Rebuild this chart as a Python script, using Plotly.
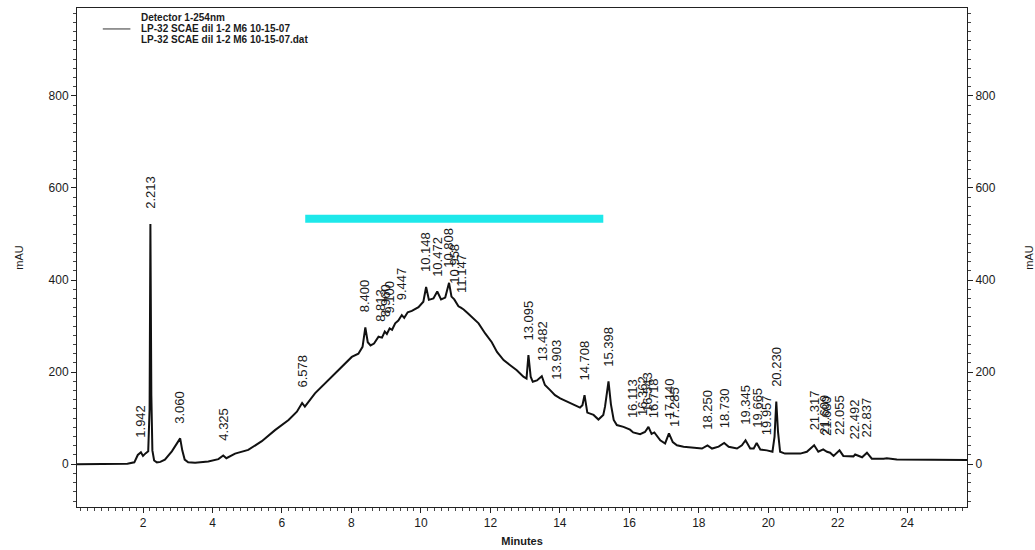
import plotly.graph_objects as go

# ---- data ----
time_min = [0.10, 1.00, 1.55, 1.75, 1.85, 1.94, 2.00, 2.08, 2.15, 2.19, 2.213, 2.24, 2.27, 2.32, 2.40,
            2.50, 2.63, 2.83, 3.00, 3.07, 3.13, 3.20, 3.30, 3.50, 3.88, 4.17, 4.31, 4.40, 4.65, 5.03,
            5.42, 5.80, 6.19, 6.43, 6.58, 6.66, 6.95, 7.34, 7.72, 8.01, 8.20, 8.32, 8.40, 8.47, 8.55,
            8.65, 8.78, 8.88, 8.96, 9.02, 9.10, 9.17, 9.26, 9.35, 9.45, 9.52, 9.62, 9.74, 9.93, 10.07,
            10.15, 10.23, 10.36, 10.47, 10.58, 10.70, 10.81, 10.88, 10.96, 11.08, 11.15, 11.23, 11.35,
            11.47, 11.66, 11.85, 12.04, 12.19, 12.38, 12.57, 12.76, 12.95, 13.04, 13.095, 13.16, 13.22,
            13.34, 13.48, 13.57, 13.72, 13.86, 14.01, 14.30, 14.58, 14.65, 14.71, 14.79, 14.97, 15.11,
            15.25, 15.30, 15.40, 15.47, 15.55, 15.64, 15.83, 16.02, 16.11, 16.31, 16.45, 16.55, 16.64,
            16.72, 16.89, 17.03, 17.14, 17.25, 17.37, 17.56, 17.85, 18.09, 18.25, 18.38, 18.57, 18.73,
            18.86, 19.10, 19.24, 19.345, 19.48, 19.58, 19.665, 19.77, 19.96, 20.12, 20.18, 20.23, 20.28,
            20.34, 20.48, 20.92, 21.11, 21.32, 21.44, 21.58, 21.69, 21.78, 21.88, 22.05, 22.16, 22.45,
            22.50, 22.70, 22.84, 22.98, 23.32, 23.41, 23.70, 24.47, 25.24, 25.72]
signal_mau = [0, 0, 1, 4, 20, 26, 18, 24, 28, 120, 522, 150, 30, 8, 4,
              5, 10, 28, 50, 56, 30, 10, 4, 3, 6, 11, 19, 13, 23, 31,
              50, 74, 96, 114, 133, 125, 154, 183, 212, 233, 240, 255, 297, 265, 258,
              262, 277, 275, 288, 283, 295, 292, 306, 312, 324, 318, 330, 333, 341, 353,
              385, 357, 360, 375, 358, 362, 394, 364, 358, 343, 340, 336, 328,
              320, 306, 284, 265, 244, 226, 215, 204, 190, 186, 237, 190, 179,
              182, 191, 172, 161, 150, 143, 132, 123, 128, 150, 112, 107, 97,
              107, 125, 180, 130, 96, 85, 81, 75, 69, 65, 70, 81, 66,
              69, 52, 45, 67, 48, 41, 38, 35, 34, 41, 34, 38, 46,
              38, 34, 41, 52, 34, 34, 46, 32, 30, 27, 60, 136, 70,
              27, 23, 23, 27, 41, 27, 32, 27, 25, 18, 30, 18, 17,
              21, 15, 25, 12, 12, 13, 10, 10, 10, 9]

peak_labels = ["1.942", "2.213", "3.060", "4.325", "6.578", "8.400", "8.813", "8.960", "9.100", "9.447",
               "10.148", "10.472", "10.808", "10.958", "11.147", "13.095", "13.482", "13.903", "14.708",
               "15.398", "16.113", "16.362", "16.543", "16.718", "17.140", "17.285", "18.250", "18.730",
               "19.345", "19.665", "19.957", "20.230", "21.317", "21.609", "21.680", "22.055", "22.492",
               "22.837"]
peak_heights = [26, 522, 56, 19, 133, 297, 277, 288, 295, 324,
                385, 375, 394, 360, 340, 237, 191, 150, 150,
                180, 67, 72, 81, 68, 67, 48, 41, 46,
                52, 46, 30, 136, 41, 32, 28, 30, 21,
                25]

x_ticks = [2, 4, 6, 8, 10, 12, 14, 16, 18, 20, 22, 24]
y_ticks = [0, 200, 400, 600, 800]

highlight_t = [6.67, 15.25]
highlight_v = [533, 533]

legend_lines = ["Detector 1-254nm", "LP-32 SCAE dil 1-2 M6 10-15-07", "LP-32 SCAE dil 1-2 M6 10-15-07.dat"]

FONT = "Liberation Sans, Arial, sans-serif"
INK = "#1a1a1a"

fig = go.Figure()
fig.add_trace(go.Scatter(x=time_min, y=signal_mau, mode="lines",
                         line=dict(color="#111111", width=2), showlegend=False,
                         hoverinfo="skip"))
fig.add_trace(go.Scatter(x=highlight_t, y=highlight_v, mode="lines", yaxis="y2",
                         line=dict(color="#1ee8ea", width=8), showlegend=False,
                         hoverinfo="skip"))

for lab, h in zip(peak_labels, peak_heights):
    fig.add_annotation(x=float(lab), y=h, text=lab, textangle=-90, showarrow=False,
                       xanchor="center", yanchor="bottom", yshift=13,
                       font=dict(family=FONT, size=13, color=INK))

# legend block (top-left)
fig.add_annotation(xref="paper", yref="paper", x=0.07, y=0.981, text="<b>" + legend_lines[0] + "</b>",
                   showarrow=False, xanchor="left", yanchor="middle",
                   font=dict(family=FONT, size=10, color=INK))
fig.add_annotation(xref="paper", yref="paper", x=0.07, y=0.958, text="<b>" + legend_lines[1] + "</b>",
                   showarrow=False, xanchor="left", yanchor="middle",
                   font=dict(family=FONT, size=10, color=INK))
fig.add_annotation(xref="paper", yref="paper", x=0.07, y=0.937, text="<b>" + legend_lines[2] + "</b>",
                   showarrow=False, xanchor="left", yanchor="middle",
                   font=dict(family=FONT, size=10, color=INK))
fig.add_shape(type="line", xref="paper", yref="paper", x0=0.029, x1=0.060, y0=0.958, y1=0.958,
              line=dict(color="#333333", width=1))

axis_common = dict(showgrid=False, zeroline=False, showline=True, linecolor="#222222", linewidth=1,
                   ticks="outside", tickcolor="#222222", automargin=False,
                   tickfont=dict(family=FONT, size=12, color=INK))

fig.update_layout(
    width=1035, height=550,
    margin=dict(l=77, r=68, t=8, b=43),
    paper_bgcolor="white", plot_bgcolor="white",
    xaxis=dict(range=[0.1, 25.72], tickvals=x_ticks, ticklen=5, mirror=True,
               minor=dict(dtick=0.2, tick0=0, ticklen=3, ticks="outside", tickcolor="#444444"),
               title=dict(text="<b>Minutes</b>", standoff=7,
                          font=dict(family=FONT, size=11, color=INK)),
               **axis_common),
    yaxis=dict(range=[-93, 991], tickvals=y_ticks, ticklen=5,
               minor=dict(dtick=20, tick0=0, ticklen=3, ticks="outside", tickcolor="#444444"),
               title=dict(text="mAU", standoff=22, font=dict(family=FONT, size=11, color=INK)),
               **axis_common),
    yaxis2=dict(range=[-93, 991], overlaying="y", side="right", tickvals=y_ticks, ticklen=5,
                minor=dict(dtick=20, tick0=0, ticklen=3, ticks="outside", tickcolor="#444444"),
                title=dict(text="mAU", standoff=30, font=dict(family=FONT, size=11, color=INK)),
                **axis_common),
    showlegend=False,
)

fig.write_html("out.html")
